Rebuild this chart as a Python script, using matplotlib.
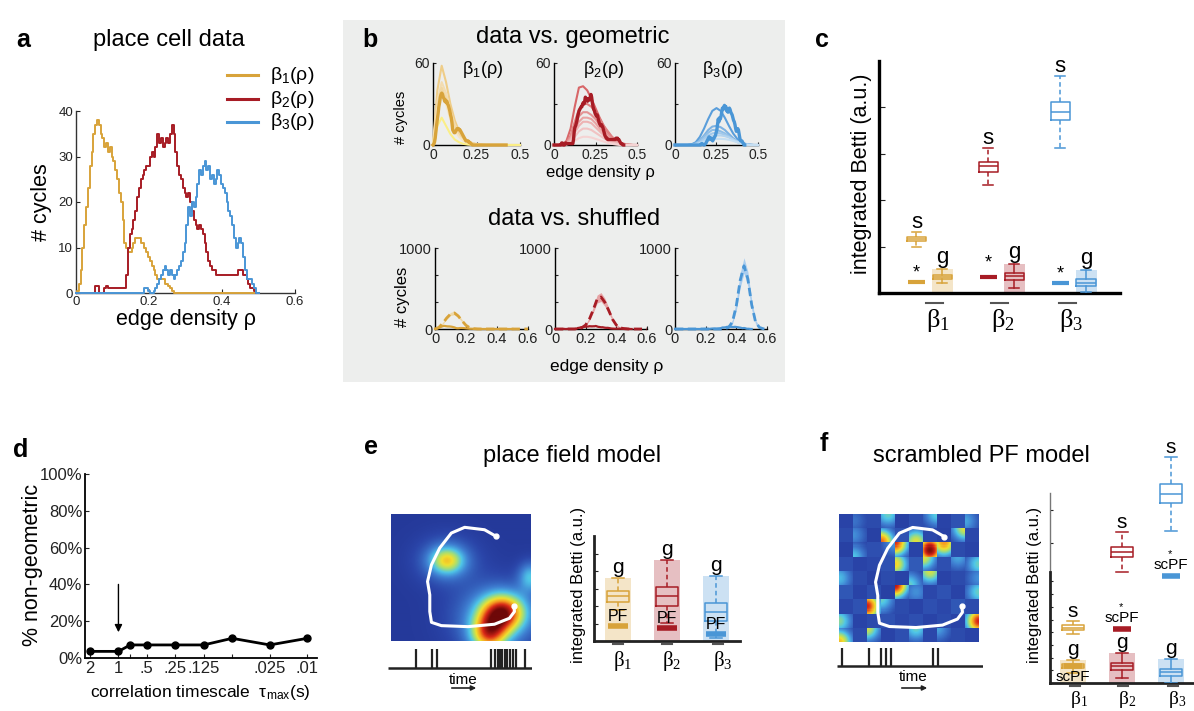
import numpy as np
import matplotlib
matplotlib.use("Agg")
import matplotlib.pyplot as plt
from matplotlib.patches import Rectangle, FancyArrowPatch
from matplotlib.lines import Line2D
from matplotlib.ticker import NullLocator, FuncFormatter
from matplotlib.colors import LinearSegmentedColormap

plt.rcParams["font.family"] = ["Liberation Sans", "DejaVu Sans"]
plt.rcParams["mathtext.fontset"] = "custom"
plt.rcParams["mathtext.rm"] = "Liberation Sans"
plt.rcParams["mathtext.it"] = "Liberation Sans:italic"
plt.rcParams["mathtext.default"] = "regular"

# ---------------------------------------------------------------- data
GOLD, RED, BLUE = "#d8a33a", "#a71c25", "#4a96d6"
PANEL_BG = "#edeeed"

# (a) Betti curves of the place cell data, sampled every 0.005 in edge density
rho_a = 0.005 * np.arange(101)
beta1_a = [0, 0.5, 2, 5, 10, 15, 19, 23, 28, 31, 35, 37, 38, 37, 35, 34, 32, 33, 31, 32,
           30, 29, 27, 25, 22, 20, 16, 11, 10, 9, 9, 10, 11, 12, 12, 12, 11, 11, 10, 9,
           8, 7, 6, 5, 4, 3, 3, 3, 3, 2, 2, 1.5, 1, 0.5]
beta2_a = [0] * 11 + [1.5, 1.5, 0, 0, 0, 1, 1.5, 1] + [1] * 9 + \
          [4, 10, 13, 14, 16, 18, 21, 23, 25, 26, 27, 28, 28, 30, 31, 30, 32, 35, 33, 34,
           32, 33, 34, 33, 35, 37, 35, 31, 28, 26, 25, 23, 22, 21, 22, 20, 18, 16, 15, 14,
           15, 14, 13, 11, 9, 7, 6, 5, 5, 4] + [4] * 11 + \
          [5, 5, 5, 4, 4, 3, 2, 1, 1, 0.5, 0, 0]
beta3_a = [0] * 38 + \
          [1, 1, 0.5, 0, 0, 0.5, 1, 2, 3, 4, 5, 6, 5, 4, 5, 4, 3, 4, 5, 6,
           7, 9, 11, 15, 19, 17, 20, 19, 21, 24, 27, 26, 28, 29, 27, 28, 25, 26, 24, 25,
           27, 26, 24, 23, 22, 20, 18, 17, 15, 12, 10, 11, 12, 11, 8, 5, 3, 3, 3, 2, 1, 0, 0]
betti_a = [np.pad(np.asarray(v, float), (0, 101 - len(v))) for v in (beta1_a, beta2_a, beta3_a)]

# (b, top) data curves on the geometric panels use their own density grid
rho_b_data = 0.0042 * np.arange(101)
rho_geo = 0.025 * np.arange(21)
geo_beta1 = [
    [0, 40, 58, 46, 30, 18, 10, 5.5, 3, 1.5, 0.7, 0.3, 0, 0, 0, 0, 0, 0, 0, 0, 0],
    [0, 32, 46, 38, 25, 15, 8.5, 4.5, 2.5, 1.2, 0.5, 0.2, 0, 0, 0, 0, 0, 0, 0, 0, 0],
    [0, 29, 42, 34, 22, 13, 7.5, 4, 2, 1, 0.4, 0.1, 0, 0, 0, 0, 0, 0, 0, 0, 0],
    [0, 26, 37, 30, 19, 11, 6, 3, 1.5, 0.6, 0.2, 0, 0, 0, 0, 0, 0, 0, 0, 0, 0],
    [0, 14, 20, 14, 8, 4, 2, 0.8, 0.3, 0, 0, 0, 0, 0, 0, 0, 0, 0, 0, 0, 0],
]
geo_beta1_colors = ["#efcd88", "#f3dcb0", "#f1d7a2", "#f6e5c2", "#fbee86"]
geo_beta2 = [
    [0, 0, 0.3, 3, 12, 28, 42, 43, 40, 34, 27, 20, 14, 9, 5.5, 3, 1.5, 0.6, 0.2, 0, 0],
    [0, 0, 0.2, 2, 7, 17, 26, 30, 30, 28, 24, 19, 14, 10, 6, 3.5, 1.8, 0.8, 0.3, 0, 0],
    [0, 0, 0.2, 1.5, 5.5, 14, 21, 24, 24, 22, 19, 15, 11, 7.5, 4.5, 2.5, 1.2, 0.5, 0.1, 0, 0],
    [0, 0, 0.1, 1, 4.5, 11, 17, 20, 20, 19, 16, 12, 9, 6, 3.5, 2, 1, 0.4, 0.1, 0, 0],
    [0, 0, 0.1, 0.8, 3.5, 9, 14, 17, 17, 16, 13, 10, 7, 4.5, 2.5, 1.4, 0.6, 0.2, 0, 0, 0],
    [0, 0, 0, 0.5, 2.5, 6, 10, 12, 12, 11, 9, 7, 5, 3, 1.8, 0.9, 0.3, 0, 0, 0, 0],
    [0, 0, 0, 0.3, 1.2, 3, 5, 6, 6, 5.5, 4.5, 3.5, 2.5, 1.5, 0.8, 0.3, 0, 0, 0, 0, 0],
]
geo_beta2_colors = ["#d86668", "#df8283", "#e49394", "#e9a3a3", "#edb3b3", "#f1c3c3", "#f5d3d3"]
geo_beta3 = [
    [0, 0, 0, 0, 0.5, 2, 6, 12, 19, 25, 27, 25, 20, 14, 8.5, 4.5, 2, 0.8, 0.3, 0, 0],
    [0, 0, 0, 0, 0.3, 1.2, 3.5, 7, 11, 13.5, 14, 13, 11, 8, 5, 2.8, 1.3, 0.5, 0.1, 0, 0],
    [0, 0, 0, 0, 0.2, 1, 3, 6, 9, 11, 11, 10, 8.5, 6.5, 4, 2.2, 1, 0.4, 0, 0, 0],
    [0, 0, 0, 0, 0.1, 0.7, 2.2, 4.5, 7, 8.5, 9, 8.5, 7.5, 6, 4, 2.3, 1.1, 0.4, 0, 0, 0],
    [0, 0, 0, 0, 0, 0.5, 1.5, 3.2, 5, 6.5, 7, 7, 6.5, 5.5, 4, 2.5, 1.2, 0.5, 0.1, 0, 0],
    [0, 0, 0, 0, 0, 0.3, 0.9, 2, 3.2, 4, 4.5, 4.5, 4.3, 3.8, 3, 2, 1, 0.4, 0, 0, 0],
]
geo_beta3_colors = ["#5a9edb", "#7cb2e3", "#8fbee7", "#a2c9eb", "#b4d4ef", "#c6dff3"]

# (b, bottom) shuffled-model Betti curves: mean with spread, every 0.025
rho_shuf = 0.025 * np.arange(25)
shuf_mean = [
    [0, 20, 70, 135, 185, 198, 160, 100, 45, 15, 4, 1, 0, 0, 0, 0, 0, 0, 0, 0, 0, 0, 0, 0, 0],
    [0, 0, 0, 0, 0, 0, 4, 15, 50, 125, 240, 370, 395, 330, 230, 120, 48, 15, 4, 0, 0, 0, 0, 0, 0],
    [0, 0, 0, 0, 0, 0, 0, 0, 0, 0, 0, 0, 0, 3, 20, 90, 290, 600, 780, 620, 300, 90, 20, 3, 0],
]
shuf_hi = [
    [0, 25, 82, 152, 205, 220, 180, 115, 55, 20, 6, 2, 0, 0, 0, 0, 0, 0, 0, 0, 0, 0, 0, 0, 0],
    [0, 0, 0, 0, 0, 0, 6, 20, 60, 145, 275, 420, 450, 380, 265, 140, 60, 20, 6, 0, 0, 0, 0, 0, 0],
    [0, 0, 0, 0, 0, 0, 0, 0, 0, 0, 0, 0, 0, 5, 28, 115, 350, 690, 880, 710, 360, 115, 28, 5, 0],
]
shuf_lo = [
    [0, 15, 58, 118, 165, 176, 140, 85, 35, 10, 2, 0, 0, 0, 0, 0, 0, 0, 0, 0, 0, 0, 0, 0, 0],
    [0, 0, 0, 0, 0, 0, 2, 10, 40, 105, 205, 320, 340, 280, 195, 100, 36, 10, 2, 0, 0, 0, 0, 0, 0],
    [0, 0, 0, 0, 0, 0, 0, 0, 0, 0, 0, 0, 0, 1, 12, 65, 230, 510, 690, 530, 240, 65, 12, 1, 0],
]

# (c) integrated Betti numbers: whislo, q1, median, q3, whishi
c_shuffled = [[0.99, 1.12, 1.16, 1.20, 1.31], [2.32, 2.60, 2.73, 2.82, 3.12], [3.12, 3.72, 3.91, 4.11, 4.67]]
c_geometric = [[0.21, 0.30, 0.34, 0.39, 0.51], [0.11, 0.28, 0.36, 0.43, 0.62], [0.02, 0.15, 0.22, 0.30, 0.50]]
c_data = [0.24, 0.34, 0.21]

# (d) fraction of non-geometric results vs. correlation timescale
tau_max = [2, 1, 0.75, 0.5, 0.25, 0.125, 0.0625, 0.025, 0.01]
tau_labels = ["2", "1", "", ".5", ".25", ".125", "", ".025", ".01"]
pct_nongeo = [3.6, 3.6, 7.1, 7.1, 7.1, 7.1, 10.7, 7.1, 10.7]

# (e) place field model: place-field bumps (centre x, centre y, sigma x, sigma y, peak)
pf_cx = [0.40, 0.40, 0.80, 0.70, 1.00, 0.75]
pf_cy = [0.37, 0.37, 0.78, 0.95, 0.50, 0.82]
pf_sx = [0.085, 0.15, 0.11, 0.09, 0.06, 0.20]
pf_sy = [0.075, 0.13, 0.10, 0.10, 0.08, 0.18]
pf_peak = [0.42, 0.16, 0.68, 0.55, 0.30, 0.26]
pf_floor = 0.06
e_geometric = [[1.77, 2.23, 2.57, 2.86, 3.60], [1.03, 2.00, 2.57, 3.09, 4.63], [0.17, 1.14, 1.66, 2.17, 3.71]]
e_pf = [0.86, 0.74, 0.40]

# trajectory through the arena (fractions of width / height from top-left)
path_x = [0.751, 0.668, 0.526, 0.431, 0.348, 0.289, 0.261, 0.277, 0.277, 0.289, 0.360,
          0.550, 0.739, 0.846, 0.882, 0.877]
path_y = [0.176, 0.124, 0.105, 0.150, 0.268, 0.400, 0.532, 0.637, 0.768, 0.853, 0.879,
          0.887, 0.868, 0.821, 0.768, 0.721]
spikes_pf = [0.194, 0.304, 0.343, 0.715, 0.743, 0.764, 0.781, 0.792, 0.810, 0.829,
             0.847, 0.868, 0.886, 0.948]
spikes_scpf = [0.036, 0.217, 0.303, 0.337, 0.368, 0.658, 0.692]

# (f) scrambled place fields: tile levels and where each tile's hot spot sits
scr_level = [
    [.10, .22, .12, .42, .09, .13, .40, .10, .14, .32],
    [.12, .28, .09, .78, .14, .58, .11, .09, .58, .11],
    [.09, .38, .13, .30, .85, .10, .97, .72, .12, .10],
    [.13, .10, .11, .14, .62, .16, .58, .13, .32, .42],
    [.36, .12, .09, .12, .10, .42, .56, .10, .12, .28],
    [.15, .10, .13, .09, .90, .28, .11, .14, .10, .42],
    [.11, .14, .86, .42, .12, .10, .13, .11, .15, .12],
    [.46, .10, .12, .14, .11, .13, .10, .12, .10, .86],
    [.66, .12, .56, .10, .13, .42, .11, .32, .12, .10],
]
scr_hot = [".4.8..9..4", ".4.1.2..9.", ".1.97.58..", "....4.7.86", "4....18..6",
           "....75...6", "..47......", "4........6", "1.7..8.7.."]
scr_floor = 0.08

# jet-like palette used for the rate maps
rate_cmap = LinearSegmentedColormap.from_list(
    "rate", [(0.0, "#1d2b86"), (0.1, "#2a44a8"), (0.25, "#3f80d2"), (0.38, "#4fc6e8"),
             (0.5, "#a6de74"), (0.6, "#f0e030"), (0.72, "#f59a20"), (0.85, "#d82818"),
             (1.0, "#6e0808")])

f_shuffled = [[3.86, 4.17, 4.37, 4.57, 4.88], [8.74, 9.92, 10.31, 10.70, 11.89], [11.97, 14.17, 14.88, 15.67, 17.80]]
f_geometric = [[0.79, 1.18, 1.34, 1.50, 1.81], [0.39, 1.02, 1.30, 1.57, 2.36], [0.00, 0.55, 0.83, 1.10, 1.89]]
f_scpf = [1.34, 4.25, 8.43]

# ---------------------------------------------------------------- helpers
W, H = 1194, 711
fig = plt.figure(figsize=(W / 100, H / 100), dpi=100)


def fx(x):
    return x / W


def fy(y):
    return 1 - y / H


def px_axes(l, t, r, b):
    ax = fig.add_axes([l / W, 1 - b / H, (r - l) / W, (b - t) / H])
    ax.set_facecolor("none")
    return ax


def ftext(x, y, s, **kw):
    kw.setdefault("ha", "center")
    kw.setdefault("va", "center")
    return fig.text(fx(x), fy(y), s, **kw)


def style(ax, lw=1.0, color="#222222", size=9.5, ticklen=3):
    for s in ("top", "right"):
        ax.spines[s].set_visible(False)
    for s in ("left", "bottom"):
        ax.spines[s].set_linewidth(lw)
        ax.spines[s].set_color(color)
    ax.tick_params(direction="in", length=ticklen, width=0.8, labelsize=size, pad=2,
                   colors="#222222")


def panel_label(x, y, s):
    ftext(x, y, s, fontsize=18, fontweight="bold")


def beta_label(x, ybar, ytext, k, size, barw):
    fig.add_artist(Line2D([fx(x), fx(x + barw)], [fy(ybar)] * 2, color="#555555", lw=1.5))
    ftext(x, ytext, "β$_%d$" % k, ha="left", fontsize=size, family="Liberation Serif",
          math_fontfamily="stix")


def box(ax, pos, st, color, width, lw=1.1, dashed=True, shade_w=None, z=3):
    if shade_w is not None:
        ax.add_patch(Rectangle((pos - shade_w / 2, 0), shade_w, st[4], facecolor=color,
                               alpha=0.28, lw=0, zorder=1))
    ax.bxp([dict(whislo=st[0], q1=st[1], med=st[2], q3=st[3], whishi=st[4])],
           positions=[pos], widths=width, showfliers=False, manage_ticks=False,
           boxprops=dict(color=color, lw=lw), medianprops=dict(color=color, lw=lw),
           whiskerprops=dict(color=color, lw=lw, ls=(0, (3, 2)) if dashed else "-"),
           capprops=dict(color=color, lw=lw), zorder=z)


# ---------------------------------------------------------------- panel a
panel_label(23, 40, "a")
ftext(169, 46, "place cell data", fontsize=17, va="baseline")
ax = px_axes(76, 111, 295, 293)
for vals, col in zip(betti_a, (GOLD, RED, BLUE)):
    ax.plot(rho_a, vals, color=col, lw=1.4, drawstyle="steps-mid", zorder=3, clip_on=False)
ax.set_xlim(0, 0.6)
ax.set_ylim(0, 40)
ax.set_xticks([0, 0.2, 0.4, 0.6], ["0", "0.2", "0.4", "0.6"])
ax.set_yticks([0, 10, 20, 30, 40])
style(ax, color="#333333")
ftext(41, 202, "# cycles", fontsize=15.5, rotation=90)
ftext(186, 320, "edge density ρ", fontsize=15.5)
for k, (col, y) in enumerate(zip((GOLD, RED, BLUE), (75, 99, 122)), start=1):
    fig.add_artist(Line2D([fx(227), fx(258)], [fy(y)] * 2, color=col, lw=2.2))
    ftext(270, y, "β$_%d$(ρ)" % k, ha="left", fontsize=14)

# ---------------------------------------------------------------- panel b
fig.add_artist(Rectangle((fx(343), fy(382)), (785 - 343) / W, (382 - 20) / H,
                         transform=fig.transFigure, facecolor=PANEL_BG, lw=0, zorder=-5))
panel_label(370, 40, "b")
ftext(573, 43, "data vs. geometric", fontsize=17, va="baseline")

top_boxes = [(433, 63, 520, 145), (554, 63, 637, 145), (675, 63, 758, 145)]
geo_sets = [(geo_beta1, geo_beta1_colors), (geo_beta2, geo_beta2_colors), (geo_beta3, geo_beta3_colors)]
title_x = [483, 604, 723]
for i, ((l, t, r, b), (curves, cols), col) in enumerate(zip(top_boxes, geo_sets, (GOLD, RED, BLUE))):
    ax = px_axes(l, t, r, b)
    for vals, c in zip(curves, cols):
        ax.plot(rho_geo, vals, color=c, lw=1.5, zorder=3, clip_on=False)
    ax.plot(rho_b_data, betti_a[i], color=col, lw=2.4, zorder=4, clip_on=False)
    ax.set_xlim(0, 0.5)
    ax.set_ylim(0, 60)
    ax.set_xticks([0, 0.25, 0.5], ["0", "0.25", "0.5"])
    ax.set_yticks([0, 30, 60], ["0", "", "60"])
    style(ax, color="k", size=10, ticklen=2.5)
    ftext(title_x[i], 70, "β$_%d$(ρ)" % (i + 1), fontsize=13)
ftext(401, 117, "# cycles", fontsize=10.5, rotation=90)
ftext(600, 172, "edge density ρ", fontsize=12)

ftext(574, 225, "data vs. shuffled", fontsize=17, va="baseline")
bot_boxes = [(435, 248, 528, 329), (555, 248, 647, 329), (675, 248, 767, 329)]
band_cols = ["#efd9a8", "#e6a3a5", "#a9cdef"]
for i, ((l, t, r, b), col) in enumerate(zip(bot_boxes, (GOLD, RED, BLUE))):
    ax = px_axes(l, t, r, b)
    ax.fill_between(rho_shuf, shuf_lo[i], shuf_hi[i], color=band_cols[i], lw=0, zorder=2,
                    clip_on=False)
    ax.plot(rho_shuf, shuf_mean[i], color=col, lw=2, ls=(0, (3, 1.6)), zorder=3, clip_on=False)
    ax.plot(rho_a, betti_a[i], color=col, lw=1.6, zorder=4, clip_on=False)
    ax.set_xlim(0, 0.6)
    ax.set_ylim(0, 1000)
    ax.set_xticks([0, 0.2, 0.4, 0.6], ["0", "0.2", "0.4", "0.6"])
    ax.set_yticks([0, 333, 667, 1000], ["0", "", "", "1000"])
    style(ax, color="k", size=10.5, ticklen=2.5)
ftext(403, 297, "# cycles", fontsize=12, rotation=90)
ftext(607, 366, "edge density ρ", fontsize=12.5)

# ---------------------------------------------------------------- panel c
panel_label(822, 40, "c")
ax = px_axes(879, 61, 1120, 293)
ax.set_xlim(0.3, 3.65)
ax.set_ylim(0, 5)
groups = [1, 2, 3]
for g, col, s_st, g_st, d in zip(groups, (GOLD, RED, BLUE), c_shuffled, c_geometric, c_data):
    box(ax, g - 0.18, s_st, col, 0.27, dashed=True)
    box(ax, g + 0.18, g_st, col, 0.27, dashed=False, shade_w=0.29)
    ax.hlines(d, g - 0.3, g - 0.06, color=col, lw=3, zorder=3)
    ax.text(g - 0.18, s_st[4] + 0.22, "s", ha="center", va="center", fontsize=16)
    ax.text(g + 0.18, g_st[4] + 0.25, "g", ha="center", va="center", fontsize=16)
    ax.text(g - 0.18, d + 0.2 + (0.1 if g == 2 else 0), "*", ha="center", va="center", fontsize=13)
ax.set_xticks([])
ax.set_yticks([1, 2, 3, 4], [])
style(ax, lw=2.4, color="k", ticklen=4)
ftext(862, 174, "integrated Betti (a.u.)", fontsize=15.5, rotation=90)
for k, x in zip((1, 2, 3), (926, 991, 1059)):
    beta_label(x, 303, 320, k, 19, 17)

# ---------------------------------------------------------------- panel d
panel_label(21, 450, "d")
ax = px_axes(85, 474, 317, 658)
ax.plot(tau_max, pct_nongeo, color="k", lw=2, marker="o", ms=5, zorder=3, clip_on=False)
ax.set_xscale("log", base=2)
ax.set_xlim(2.26, 0.0079)
ax.set_ylim(0, 100)
ax.set_xticks(tau_max, tau_labels)
ax.xaxis.set_minor_locator(NullLocator())
ax.set_yticks([0, 20, 40, 60, 80, 100])
ax.yaxis.set_major_formatter(FuncFormatter(lambda v, p: "%d%%" % v))
style(ax, lw=1.3, color="k", size=12, ticklen=3)
ax.annotate("", xy=(1, 12.5), xytext=(1, 41.5),
            arrowprops=dict(arrowstyle="-|>", color="k", lw=1, mutation_scale=11))
ftext(33, 565, "% non-geometric", fontsize=15.5, rotation=90)
ftext(200, 692, "correlation timescale  τ$_{max}$(s)", fontsize=12.5)

# ---------------------------------------------------------------- panel e
panel_label(371, 447, "e")
ftext(572, 462, "place field model", fontsize=17, va="baseline")

gx, gy = np.meshgrid(np.linspace(0, 1, 140), np.linspace(0, 1, 127))
field = np.full_like(gx, pf_floor)
for cx, cy, sx, sy, pk in zip(pf_cx, pf_cy, pf_sx, pf_sy, pf_peak):
    field += pk * np.exp(-((gx - cx) ** 2 / (2 * sx ** 2) + (gy - cy) ** 2 / (2 * sy ** 2)))
field = np.clip(field, 0, 1)
ax = px_axes(391, 514, 531, 641)
ax.imshow(field, cmap=rate_cmap, vmin=0, vmax=1, extent=(0, 1, 1, 0), aspect="auto",
          interpolation="bilinear")
ax.plot(path_x, path_y, color="white", lw=2.2, solid_capstyle="round")
ax.plot([path_x[0], path_x[-1]], [path_y[0], path_y[-1]], "o", color="white", ms=3.5)
ax.set_xlim(0, 1)
ax.set_ylim(1, 0)
ax.axis("off")


def raster(l, r, base, top, spikes):
    ax = px_axes(l, top - 4, r, base + 4)
    ax.set_xlim(0, 1)
    ax.set_ylim(-4 / (base - top), 1 + 4 / (base - top))
    ax.hlines(0, 0, 1, color="#222222", lw=1.8)
    ax.vlines(spikes, 0, 1, color="#222222", lw=1.6)
    ax.axis("off")


raster(388, 532, 668, 649, spikes_pf)
ftext(463, 680, "time", fontsize=11)
fig.add_artist(FancyArrowPatch((fx(449), fy(688)), (fx(479), fy(688)), transform=fig.transFigure,
                               arrowstyle="-|>", mutation_scale=7, lw=1.2, color="#222222"))

ax = px_axes(594, 536, 740, 641)
ax.set_xlim(0.51, 3.49)
ax.set_ylim(0, 6)
for g, col, st, pf in zip(groups, (GOLD, RED, BLUE), e_geometric, e_pf):
    box(ax, g, st, col, 0.45, dashed=True, shade_w=0.53)
    ax.hlines(pf, g - 0.2, g + 0.2, color=col, lw=4, zorder=4)
    ax.text(g, st[4] + 0.6, "g", ha="center", va="center", fontsize=15)
    ax.text(g, pf + 0.55, "PF", ha="center", va="center", fontsize=11.5, zorder=5)
ax.set_xticks([])
ax.set_yticks([1, 2, 3, 4, 5], [])
style(ax, lw=2, color="#222222", ticklen=3)
ftext(578, 585, "integrated Betti (a.u.)", fontsize=12, rotation=90)
for k, x in zip((1, 2, 3), (613, 662, 713)):
    beta_label(x, 644, 661, k, 15, 10)

# ---------------------------------------------------------------- panel f
panel_label(824, 444, "f")
ftext(981, 462, "scrambled PF model", fontsize=17, va="baseline")

n = 14
u = (np.arange(n) + 0.5) / n
ux, uy = np.meshgrid(u, u)
anchor = {"7": (0, 0), "8": (0.5, 0), "9": (1, 0), "4": (0, 0.5), "5": (0.5, 0.5),
          "6": (1, 0.5), "1": (0, 1), "2": (0.5, 1), "3": (1, 1)}
rows, cols = len(scr_level), len(scr_level[0])
tiles = np.zeros((rows * n, cols * n))
for r in range(rows):
    for c in range(cols):
        lev, code = scr_level[r][c], scr_hot[r][c]
        if code == ".":
            tile = np.full((n, n), lev)
        else:
            axx, ayy = anchor[code]
            d2 = (ux - axx) ** 2 + (uy - ayy) ** 2
            tile = scr_floor + (lev - scr_floor) * np.exp(-d2 / (2 * 0.65 ** 2))
        tiles[r * n:(r + 1) * n, c * n:(c + 1) * n] = tile
ax = px_axes(839, 514, 979, 642)
ax.imshow(tiles, cmap=rate_cmap, vmin=0, vmax=1, extent=(0, 1, 1, 0), aspect="auto",
          interpolation="nearest")
ax.plot(path_x, path_y, color="white", lw=2.2, solid_capstyle="round")
ax.plot([path_x[0], path_x[-1]], [path_y[0], path_y[-1]], "o", color="white", ms=3.5)
ax.set_xlim(0, 1)
ax.set_ylim(1, 0)
ax.axis("off")

raster(837, 983, 666, 648, spikes_scpf)
ftext(913, 677, "time", fontsize=11)
fig.add_artist(FancyArrowPatch((fx(899), fy(688)), (fx(930), fy(688)), transform=fig.transFigure,
                               arrowstyle="-|>", mutation_scale=7, lw=1.2, color="#222222"))

ax = px_axes(1050, 440, 1194, 683)
ax.set_xlim(0.531, 3.469)
ax.set_ylim(0, (683 - 440) / 12.7)
for g, col, s_st, g_st, sc in zip(groups, (GOLD, RED, BLUE), f_shuffled, f_geometric, f_scpf):
    box(ax, g, s_st, col, 0.45, dashed=True)
    box(ax, g, g_st, col, 0.45, dashed=False, shade_w=0.53)
    ax.hlines(sc, g - 0.19, g + 0.19, color=col, lw=4, zorder=4)
    ax.text(g, s_st[4] + 0.75, "s", ha="center", va="center", fontsize=15)
    ax.text(g, g_st[4] + 0.8, "g", ha="center", va="center", fontsize=15)
    if g == 1:
        ax.text(g, sc - 0.85, "scPF", ha="center", va="center", fontsize=11, zorder=5)
    else:
        ax.text(g, sc + 0.85, "scPF", ha="center", va="center", fontsize=11, zorder=5)
        ax.text(g - 0.03, sc + 1.75, "*", ha="center", va="center", fontsize=8, zorder=5)
ax.set_xticks([])
ax.set_yticks([1, 2, 3, 4, 5, 6, 7, 8, 11, 13.6], [])
style(ax, lw=2, color="#222222", ticklen=2.5)
ax.spines["left"].set_bounds(0, 8.74)
ax.plot([0.531, 0.531], [8.74, 14.96], color="#777777", lw=1, clip_on=False)
ftext(1035, 585, "integrated Betti (a.u.)", fontsize=12, rotation=90)
for k, x in zip((1, 2, 3), (1070, 1118, 1168)):
    beta_label(x, 686, 700, k, 14, 10)

fig.savefig("out.png", dpi=100)
